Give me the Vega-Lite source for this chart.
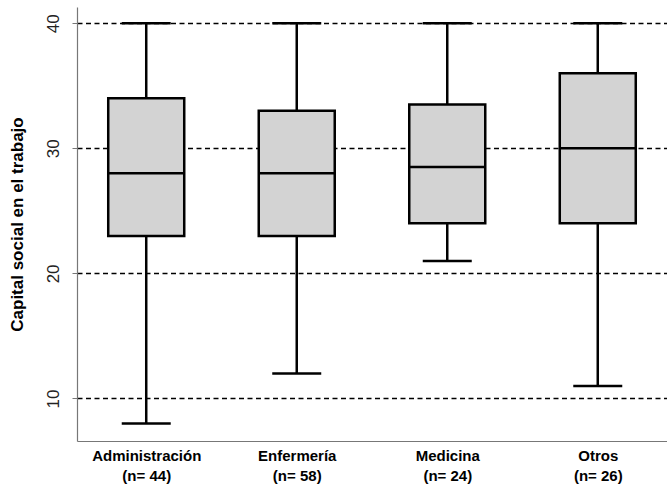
{
  "$schema": "https://vega.github.io/schema/vega-lite/v6.json",
  "autosize": "none",
  "padding": {"left": 77, "top": 7, "right": 0, "bottom": 49},
  "width": 590,
  "height": 434,
  "background": "white",
  "config": {
    "view": {"stroke": null},
    "font": "Liberation Sans"
  },
  "data": {
    "values": [
      {"grupo": "Administración|(n= 44)", "lower": 8, "q1": 23, "median": 28, "q3": 34, "upper": 40},
      {"grupo": "Enfermería|(n= 58)", "lower": 12, "q1": 23, "median": 28, "q3": 33, "upper": 40},
      {"grupo": "Medicina|(n= 24)", "lower": 21, "q1": 24, "median": 28.5, "q3": 33.5, "upper": 40},
      {"grupo": "Otros|(n= 26)", "lower": 11, "q1": 24, "median": 30, "q3": 36, "upper": 40}
    ]
  },
  "encoding": {
    "x": {
      "field": "grupo",
      "type": "nominal",
      "sort": null,
      "scale": {"type": "point", "padding": 0.46},
      "axis": {
        "title": null,
        "labelExpr": "split(datum.label, '|')",
        "labelAngle": 0,
        "labelFont": "Liberation Sans",
        "labelFontSize": 15,
        "labelFontWeight": "bold",
        "labelColor": "black",
        "labelLineHeight": 20,
        "labelPadding": 7,
        "ticks": false,
        "domainColor": "#777777",
        "domainWidth": 1.2,
        "grid": false
      }
    }
  },
  "layer": [
    {
      "mark": {"type": "rule", "color": "black", "strokeWidth": 2.5},
      "encoding": {
        "y": {
          "field": "lower",
          "type": "quantitative",
          "scale": {"domain": [6.6, 41.3], "nice": false, "zero": false},
          "axis": {
            "title": "Capital social en el trabajo",
            "titleFont": "Liberation Sans",
            "titleFontSize": 17,
            "titleFontWeight": "bold",
            "titleColor": "black",
            "titlePadding": 18,
            "values": [10, 20, 30, 40],
            "labelAngle": -90,
            "labelAlign": "center",
            "labelBaseline": "bottom",
            "labelFont": "Liberation Sans",
            "labelFontSize": 17,
            "labelColor": "#222222",
            "labelPadding": 10,
            "tickSize": 5,
            "tickColor": "#777777",
            "domainColor": "#777777",
            "domainWidth": 1.2,
            "grid": true,
            "gridColor": "black",
            "gridDash": [5, 3.5],
            "gridWidth": 1.4
          }
        },
        "y2": {"field": "upper"}
      }
    },
    {
      "mark": {"type": "bar", "fill": "#d3d3d3", "stroke": "black", "strokeWidth": 2.5, "size": 76, "opacity": 1},
      "encoding": {
        "y": {"field": "q1", "type": "quantitative"},
        "y2": {"field": "q3"}
      }
    },
    {
      "mark": {"type": "tick", "color": "black", "thickness": 2.5, "size": 76, "opacity": 1},
      "encoding": {
        "y": {"field": "median", "type": "quantitative"}
      }
    },
    {
      "mark": {"type": "tick", "color": "black", "thickness": 2.5, "size": 49, "opacity": 1},
      "encoding": {
        "y": {"field": "lower", "type": "quantitative"}
      }
    },
    {
      "mark": {"type": "tick", "color": "black", "thickness": 2.5, "size": 49, "opacity": 1},
      "encoding": {
        "y": {"field": "upper", "type": "quantitative"}
      }
    }
  ]
}
